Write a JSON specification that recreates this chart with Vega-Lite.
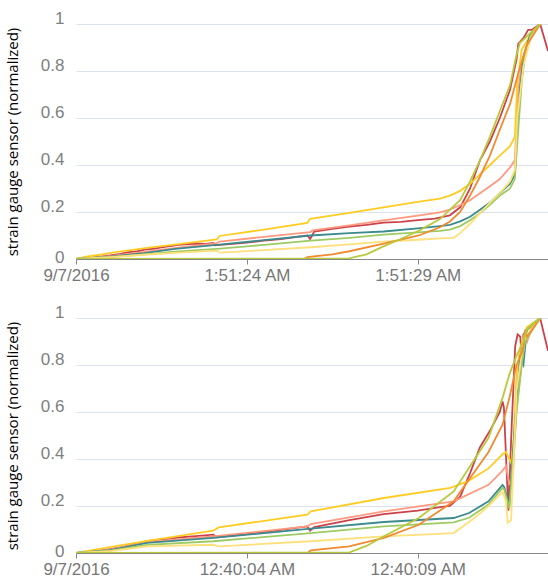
{
"$schema": "https://vega.github.io/schema/vega-lite/v6.json",
"padding": {"left": 5, "top": 9, "right": 0, "bottom": 0},
"spacing": 59,
"bounds": "flush",
"config": {
  "view": {"stroke": null},
  "axisX": {"grid": false, "domainColor": "#888888", "tickColor": "#888888", "tickSize": 5, "labelColor": "#777777", "labelFont": "Liberation Sans", "labelFontSize": 17, "labelPadding": 3, "labelFlush": false, "labelOverlap": false},
  "axisY": {"domain": false, "ticks": false, "gridColor": "#dde3ee", "gridWidth": 1, "labelColor": "#808080", "labelFont": "Liberation Sans", "labelFontSize": 17, "labelPadding": 12, "labelBaseline": "middle", "minExtent": 36, "maxExtent": 36, "titleFont": "Open Sans", "titleFontSize": 15, "titleFontWeight": "normal", "titleColor": "#000000", "titlePadding": 20}
},
"datasets": {
"top": [
{"sensor":"Sensor 1","time":"2016-09-07T01:51:19.000","value":0},
{"sensor":"Sensor 1","time":"2016-09-07T01:51:19.500","value":0.006},
{"sensor":"Sensor 1","time":"2016-09-07T01:51:20.000","value":0.015},
{"sensor":"Sensor 1","time":"2016-09-07T01:51:20.300","value":0.022},
{"sensor":"Sensor 1","time":"2016-09-07T01:51:20.500","value":0.028},
{"sensor":"Sensor 1","time":"2016-09-07T01:51:20.800","value":0.033},
{"sensor":"Sensor 1","time":"2016-09-07T01:51:21.000","value":0.04},
{"sensor":"Sensor 1","time":"2016-09-07T01:51:21.300","value":0.044},
{"sensor":"Sensor 1","time":"2016-09-07T01:51:21.500","value":0.05},
{"sensor":"Sensor 1","time":"2016-09-07T01:51:21.800","value":0.056},
{"sensor":"Sensor 1","time":"2016-09-07T01:51:22.000","value":0.06},
{"sensor":"Sensor 1","time":"2016-09-07T01:51:22.500","value":0.066},
{"sensor":"Sensor 1","time":"2016-09-07T01:51:22.800","value":0.064},
{"sensor":"Sensor 1","time":"2016-09-07T01:51:23.020","value":0.068},
{"sensor":"Sensor 1","time":"2016-09-07T01:51:23.070","value":0.058},
{"sensor":"Sensor 1","time":"2016-09-07T01:51:23.500","value":0.063},
{"sensor":"Sensor 1","time":"2016-09-07T01:51:24.000","value":0.07},
{"sensor":"Sensor 1","time":"2016-09-07T01:51:24.500","value":0.078},
{"sensor":"Sensor 1","time":"2016-09-07T01:51:25.000","value":0.085},
{"sensor":"Sensor 1","time":"2016-09-07T01:51:25.500","value":0.095},
{"sensor":"Sensor 1","time":"2016-09-07T01:51:25.770","value":0.1},
{"sensor":"Sensor 1","time":"2016-09-07T01:51:25.850","value":0.085},
{"sensor":"Sensor 1","time":"2016-09-07T01:51:25.970","value":0.117},
{"sensor":"Sensor 1","time":"2016-09-07T01:51:26.500","value":0.128},
{"sensor":"Sensor 1","time":"2016-09-07T01:51:27.000","value":0.138},
{"sensor":"Sensor 1","time":"2016-09-07T01:51:27.500","value":0.145},
{"sensor":"Sensor 1","time":"2016-09-07T01:51:28.000","value":0.155},
{"sensor":"Sensor 1","time":"2016-09-07T01:51:28.500","value":0.158},
{"sensor":"Sensor 1","time":"2016-09-07T01:51:29.000","value":0.165},
{"sensor":"Sensor 1","time":"2016-09-07T01:51:29.500","value":0.172},
{"sensor":"Sensor 1","time":"2016-09-07T01:51:29.940","value":0.186},
{"sensor":"Sensor 1","time":"2016-09-07T01:51:30.240","value":0.22},
{"sensor":"Sensor 1","time":"2016-09-07T01:51:30.530","value":0.3},
{"sensor":"Sensor 1","time":"2016-09-07T01:51:30.820","value":0.42},
{"sensor":"Sensor 1","time":"2016-09-07T01:51:31.110","value":0.5},
{"sensor":"Sensor 1","time":"2016-09-07T01:51:31.400","value":0.6},
{"sensor":"Sensor 1","time":"2016-09-07T01:51:31.700","value":0.72},
{"sensor":"Sensor 1","time":"2016-09-07T01:51:31.890","value":0.85},
{"sensor":"Sensor 1","time":"2016-09-07T01:51:31.940","value":0.915},
{"sensor":"Sensor 1","time":"2016-09-07T01:51:32.090","value":0.94},
{"sensor":"Sensor 1","time":"2016-09-07T01:51:32.230","value":0.975},
{"sensor":"Sensor 1","time":"2016-09-07T01:51:32.330","value":0.975},
{"sensor":"Sensor 1","time":"2016-09-07T01:51:32.580","value":1},
{"sensor":"Sensor 1","time":"2016-09-07T01:51:32.810","value":0.885},
{"sensor":"Sensor 2","time":"2016-09-07T01:51:19.000","value":0},
{"sensor":"Sensor 2","time":"2016-09-07T01:51:20.000","value":0.012},
{"sensor":"Sensor 2","time":"2016-09-07T01:51:21.000","value":0.03},
{"sensor":"Sensor 2","time":"2016-09-07T01:51:22.000","value":0.048},
{"sensor":"Sensor 2","time":"2016-09-07T01:51:23.100","value":0.066},
{"sensor":"Sensor 2","time":"2016-09-07T01:51:23.200","value":0.074},
{"sensor":"Sensor 2","time":"2016-09-07T01:51:24.500","value":0.094},
{"sensor":"Sensor 2","time":"2016-09-07T01:51:25.850","value":0.114},
{"sensor":"Sensor 2","time":"2016-09-07T01:51:25.920","value":0.122},
{"sensor":"Sensor 2","time":"2016-09-07T01:51:27.000","value":0.143},
{"sensor":"Sensor 2","time":"2016-09-07T01:51:28.000","value":0.164},
{"sensor":"Sensor 2","time":"2016-09-07T01:51:29.000","value":0.185},
{"sensor":"Sensor 2","time":"2016-09-07T01:51:29.650","value":0.198},
{"sensor":"Sensor 2","time":"2016-09-07T01:51:29.940","value":0.21},
{"sensor":"Sensor 2","time":"2016-09-07T01:51:30.240","value":0.23},
{"sensor":"Sensor 2","time":"2016-09-07T01:51:30.530","value":0.25},
{"sensor":"Sensor 2","time":"2016-09-07T01:51:30.820","value":0.28},
{"sensor":"Sensor 2","time":"2016-09-07T01:51:31.110","value":0.31},
{"sensor":"Sensor 2","time":"2016-09-07T01:51:31.400","value":0.34},
{"sensor":"Sensor 2","time":"2016-09-07T01:51:31.700","value":0.39},
{"sensor":"Sensor 2","time":"2016-09-07T01:51:31.840","value":0.42},
{"sensor":"Sensor 2","time":"2016-09-07T01:51:31.910","value":0.67},
{"sensor":"Sensor 2","time":"2016-09-07T01:51:32.040","value":0.84},
{"sensor":"Sensor 2","time":"2016-09-07T01:51:32.280","value":0.94},
{"sensor":"Sensor 2","time":"2016-09-07T01:51:32.580","value":1},
{"sensor":"Sensor 3","time":"2016-09-07T01:51:19.000","value":0},
{"sensor":"Sensor 3","time":"2016-09-07T01:51:19.300","value":0.01},
{"sensor":"Sensor 3","time":"2016-09-07T01:51:19.600","value":0.016},
{"sensor":"Sensor 3","time":"2016-09-07T01:51:19.860","value":0.022},
{"sensor":"Sensor 3","time":"2016-09-07T01:51:20.200","value":0.03},
{"sensor":"Sensor 3","time":"2016-09-07T01:51:20.600","value":0.038},
{"sensor":"Sensor 3","time":"2016-09-07T01:51:21.080","value":0.047},
{"sensor":"Sensor 3","time":"2016-09-07T01:51:22.000","value":0.063},
{"sensor":"Sensor 3","time":"2016-09-07T01:51:23.120","value":0.083},
{"sensor":"Sensor 3","time":"2016-09-07T01:51:23.200","value":0.098},
{"sensor":"Sensor 3","time":"2016-09-07T01:51:24.500","value":0.125},
{"sensor":"Sensor 3","time":"2016-09-07T01:51:25.770","value":0.154},
{"sensor":"Sensor 3","time":"2016-09-07T01:51:25.850","value":0.171},
{"sensor":"Sensor 3","time":"2016-09-07T01:51:27.000","value":0.196},
{"sensor":"Sensor 3","time":"2016-09-07T01:51:28.000","value":0.22},
{"sensor":"Sensor 3","time":"2016-09-07T01:51:29.000","value":0.243},
{"sensor":"Sensor 3","time":"2016-09-07T01:51:29.650","value":0.257},
{"sensor":"Sensor 3","time":"2016-09-07T01:51:29.940","value":0.27},
{"sensor":"Sensor 3","time":"2016-09-07T01:51:30.240","value":0.29},
{"sensor":"Sensor 3","time":"2016-09-07T01:51:30.530","value":0.32},
{"sensor":"Sensor 3","time":"2016-09-07T01:51:30.820","value":0.36},
{"sensor":"Sensor 3","time":"2016-09-07T01:51:31.110","value":0.4},
{"sensor":"Sensor 3","time":"2016-09-07T01:51:31.400","value":0.44},
{"sensor":"Sensor 3","time":"2016-09-07T01:51:31.700","value":0.48},
{"sensor":"Sensor 3","time":"2016-09-07T01:51:31.840","value":0.52},
{"sensor":"Sensor 3","time":"2016-09-07T01:51:31.910","value":0.75},
{"sensor":"Sensor 3","time":"2016-09-07T01:51:32.040","value":0.89},
{"sensor":"Sensor 3","time":"2016-09-07T01:51:32.280","value":0.95},
{"sensor":"Sensor 3","time":"2016-09-07T01:51:32.580","value":1},
{"sensor":"Sensor 4","time":"2016-09-07T01:51:19.000","value":0},
{"sensor":"Sensor 4","time":"2016-09-07T01:51:20.000","value":0.01},
{"sensor":"Sensor 4","time":"2016-09-07T01:51:21.000","value":0.025},
{"sensor":"Sensor 4","time":"2016-09-07T01:51:21.900","value":0.043},
{"sensor":"Sensor 4","time":"2016-09-07T01:51:23.120","value":0.06},
{"sensor":"Sensor 4","time":"2016-09-07T01:51:24.500","value":0.08},
{"sensor":"Sensor 4","time":"2016-09-07T01:51:25.870","value":0.1},
{"sensor":"Sensor 4","time":"2016-09-07T01:51:27.000","value":0.11},
{"sensor":"Sensor 4","time":"2016-09-07T01:51:28.000","value":0.117},
{"sensor":"Sensor 4","time":"2016-09-07T01:51:29.000","value":0.13},
{"sensor":"Sensor 4","time":"2016-09-07T01:51:29.650","value":0.14},
{"sensor":"Sensor 4","time":"2016-09-07T01:51:29.940","value":0.145},
{"sensor":"Sensor 4","time":"2016-09-07T01:51:30.240","value":0.16},
{"sensor":"Sensor 4","time":"2016-09-07T01:51:30.530","value":0.18},
{"sensor":"Sensor 4","time":"2016-09-07T01:51:30.820","value":0.21},
{"sensor":"Sensor 4","time":"2016-09-07T01:51:31.110","value":0.24},
{"sensor":"Sensor 4","time":"2016-09-07T01:51:31.400","value":0.28},
{"sensor":"Sensor 4","time":"2016-09-07T01:51:31.700","value":0.32},
{"sensor":"Sensor 4","time":"2016-09-07T01:51:31.840","value":0.36},
{"sensor":"Sensor 4","time":"2016-09-07T01:51:31.910","value":0.55},
{"sensor":"Sensor 4","time":"2016-09-07T01:51:31.990","value":0.72},
{"sensor":"Sensor 4","time":"2016-09-07T01:51:32.090","value":0.86},
{"sensor":"Sensor 4","time":"2016-09-07T01:51:32.280","value":0.95},
{"sensor":"Sensor 4","time":"2016-09-07T01:51:32.580","value":1},
{"sensor":"Sensor 5","time":"2016-09-07T01:51:19.000","value":0},
{"sensor":"Sensor 5","time":"2016-09-07T01:51:20.000","value":0.008},
{"sensor":"Sensor 5","time":"2016-09-07T01:51:21.000","value":0.02},
{"sensor":"Sensor 5","time":"2016-09-07T01:51:21.900","value":0.031},
{"sensor":"Sensor 5","time":"2016-09-07T01:51:23.120","value":0.043},
{"sensor":"Sensor 5","time":"2016-09-07T01:51:24.500","value":0.06},
{"sensor":"Sensor 5","time":"2016-09-07T01:51:25.870","value":0.078},
{"sensor":"Sensor 5","time":"2016-09-07T01:51:27.000","value":0.09},
{"sensor":"Sensor 5","time":"2016-09-07T01:51:28.000","value":0.104},
{"sensor":"Sensor 5","time":"2016-09-07T01:51:29.000","value":0.113},
{"sensor":"Sensor 5","time":"2016-09-07T01:51:29.650","value":0.12},
{"sensor":"Sensor 5","time":"2016-09-07T01:51:29.940","value":0.125},
{"sensor":"Sensor 5","time":"2016-09-07T01:51:30.240","value":0.14},
{"sensor":"Sensor 5","time":"2016-09-07T01:51:30.530","value":0.165},
{"sensor":"Sensor 5","time":"2016-09-07T01:51:30.820","value":0.195},
{"sensor":"Sensor 5","time":"2016-09-07T01:51:31.110","value":0.23},
{"sensor":"Sensor 5","time":"2016-09-07T01:51:31.400","value":0.27},
{"sensor":"Sensor 5","time":"2016-09-07T01:51:31.700","value":0.3},
{"sensor":"Sensor 5","time":"2016-09-07T01:51:31.840","value":0.34},
{"sensor":"Sensor 5","time":"2016-09-07T01:51:31.940","value":0.55},
{"sensor":"Sensor 5","time":"2016-09-07T01:51:32.040","value":0.75},
{"sensor":"Sensor 5","time":"2016-09-07T01:51:32.140","value":0.87},
{"sensor":"Sensor 5","time":"2016-09-07T01:51:32.300","value":0.95},
{"sensor":"Sensor 5","time":"2016-09-07T01:51:32.580","value":1},
{"sensor":"Sensor 6","time":"2016-09-07T01:51:19.000","value":0},
{"sensor":"Sensor 6","time":"2016-09-07T01:51:20.000","value":0.008},
{"sensor":"Sensor 6","time":"2016-09-07T01:51:21.000","value":0.018},
{"sensor":"Sensor 6","time":"2016-09-07T01:51:21.900","value":0.026},
{"sensor":"Sensor 6","time":"2016-09-07T01:51:23.120","value":0.036},
{"sensor":"Sensor 6","time":"2016-09-07T01:51:23.220","value":0.027},
{"sensor":"Sensor 6","time":"2016-09-07T01:51:24.500","value":0.038},
{"sensor":"Sensor 6","time":"2016-09-07T01:51:25.870","value":0.05},
{"sensor":"Sensor 6","time":"2016-09-07T01:51:27.000","value":0.062},
{"sensor":"Sensor 6","time":"2016-09-07T01:51:28.000","value":0.074},
{"sensor":"Sensor 6","time":"2016-09-07T01:51:29.000","value":0.082},
{"sensor":"Sensor 6","time":"2016-09-07T01:51:29.650","value":0.088},
{"sensor":"Sensor 6","time":"2016-09-07T01:51:30.050","value":0.09},
{"sensor":"Sensor 6","time":"2016-09-07T01:51:30.240","value":0.11},
{"sensor":"Sensor 6","time":"2016-09-07T01:51:30.530","value":0.15},
{"sensor":"Sensor 6","time":"2016-09-07T01:51:30.820","value":0.195},
{"sensor":"Sensor 6","time":"2016-09-07T01:51:31.110","value":0.24},
{"sensor":"Sensor 6","time":"2016-09-07T01:51:31.400","value":0.28},
{"sensor":"Sensor 6","time":"2016-09-07T01:51:31.700","value":0.33},
{"sensor":"Sensor 6","time":"2016-09-07T01:51:31.840","value":0.38},
{"sensor":"Sensor 6","time":"2016-09-07T01:51:31.910","value":0.6},
{"sensor":"Sensor 6","time":"2016-09-07T01:51:32.090","value":0.82},
{"sensor":"Sensor 6","time":"2016-09-07T01:51:32.300","value":0.94},
{"sensor":"Sensor 6","time":"2016-09-07T01:51:32.580","value":1},
{"sensor":"Sensor 7","time":"2016-09-07T01:51:19.000","value":0},
{"sensor":"Sensor 7","time":"2016-09-07T01:51:25.670","value":0},
{"sensor":"Sensor 7","time":"2016-09-07T01:51:25.770","value":0.008},
{"sensor":"Sensor 7","time":"2016-09-07T01:51:26.500","value":0.02},
{"sensor":"Sensor 7","time":"2016-09-07T01:51:27.000","value":0.033},
{"sensor":"Sensor 7","time":"2016-09-07T01:51:28.000","value":0.065},
{"sensor":"Sensor 7","time":"2016-09-07T01:51:29.030","value":0.1},
{"sensor":"Sensor 7","time":"2016-09-07T01:51:29.650","value":0.135},
{"sensor":"Sensor 7","time":"2016-09-07T01:51:29.940","value":0.16},
{"sensor":"Sensor 7","time":"2016-09-07T01:51:30.240","value":0.2},
{"sensor":"Sensor 7","time":"2016-09-07T01:51:30.530","value":0.27},
{"sensor":"Sensor 7","time":"2016-09-07T01:51:30.820","value":0.35},
{"sensor":"Sensor 7","time":"2016-09-07T01:51:31.110","value":0.44},
{"sensor":"Sensor 7","time":"2016-09-07T01:51:31.400","value":0.55},
{"sensor":"Sensor 7","time":"2016-09-07T01:51:31.700","value":0.66},
{"sensor":"Sensor 7","time":"2016-09-07T01:51:31.940","value":0.79},
{"sensor":"Sensor 7","time":"2016-09-07T01:51:32.190","value":0.91},
{"sensor":"Sensor 7","time":"2016-09-07T01:51:32.580","value":1},
{"sensor":"Sensor 8","time":"2016-09-07T01:51:19.000","value":0},
{"sensor":"Sensor 8","time":"2016-09-07T01:51:26.990","value":0.003},
{"sensor":"Sensor 8","time":"2016-09-07T01:51:27.500","value":0.02},
{"sensor":"Sensor 8","time":"2016-09-07T01:51:28.010","value":0.055},
{"sensor":"Sensor 8","time":"2016-09-07T01:51:28.500","value":0.085},
{"sensor":"Sensor 8","time":"2016-09-07T01:51:29.030","value":0.12},
{"sensor":"Sensor 8","time":"2016-09-07T01:51:29.650","value":0.17},
{"sensor":"Sensor 8","time":"2016-09-07T01:51:29.940","value":0.21},
{"sensor":"Sensor 8","time":"2016-09-07T01:51:30.240","value":0.25},
{"sensor":"Sensor 8","time":"2016-09-07T01:51:30.530","value":0.33},
{"sensor":"Sensor 8","time":"2016-09-07T01:51:30.820","value":0.42},
{"sensor":"Sensor 8","time":"2016-09-07T01:51:31.110","value":0.52},
{"sensor":"Sensor 8","time":"2016-09-07T01:51:31.400","value":0.63},
{"sensor":"Sensor 8","time":"2016-09-07T01:51:31.700","value":0.74},
{"sensor":"Sensor 8","time":"2016-09-07T01:51:31.890","value":0.87},
{"sensor":"Sensor 8","time":"2016-09-07T01:51:31.990","value":0.92},
{"sensor":"Sensor 8","time":"2016-09-07T01:51:32.140","value":0.94},
{"sensor":"Sensor 8","time":"2016-09-07T01:51:32.280","value":0.96},
{"sensor":"Sensor 8","time":"2016-09-07T01:51:32.580","value":1}
],
"bottom": [
{"sensor":"Sensor 1","time":"2016-09-07T00:39:59.000","value":0},
{"sensor":"Sensor 1","time":"2016-09-07T00:39:59.500","value":0.006},
{"sensor":"Sensor 1","time":"2016-09-07T00:40:00.000","value":0.016},
{"sensor":"Sensor 1","time":"2016-09-07T00:40:00.300","value":0.024},
{"sensor":"Sensor 1","time":"2016-09-07T00:40:00.500","value":0.03},
{"sensor":"Sensor 1","time":"2016-09-07T00:40:00.800","value":0.04},
{"sensor":"Sensor 1","time":"2016-09-07T00:40:01.080","value":0.05},
{"sensor":"Sensor 1","time":"2016-09-07T00:40:01.500","value":0.058},
{"sensor":"Sensor 1","time":"2016-09-07T00:40:01.800","value":0.06},
{"sensor":"Sensor 1","time":"2016-09-07T00:40:02.000","value":0.066},
{"sensor":"Sensor 1","time":"2016-09-07T00:40:02.500","value":0.072},
{"sensor":"Sensor 1","time":"2016-09-07T00:40:03.020","value":0.078},
{"sensor":"Sensor 1","time":"2016-09-07T00:40:03.100","value":0.067},
{"sensor":"Sensor 1","time":"2016-09-07T00:40:04.000","value":0.08},
{"sensor":"Sensor 1","time":"2016-09-07T00:40:05.000","value":0.098},
{"sensor":"Sensor 1","time":"2016-09-07T00:40:05.770","value":0.113},
{"sensor":"Sensor 1","time":"2016-09-07T00:40:05.850","value":0.095},
{"sensor":"Sensor 1","time":"2016-09-07T00:40:05.970","value":0.11},
{"sensor":"Sensor 1","time":"2016-09-07T00:40:07.000","value":0.14},
{"sensor":"Sensor 1","time":"2016-09-07T00:40:08.000","value":0.165},
{"sensor":"Sensor 1","time":"2016-09-07T00:40:09.000","value":0.18},
{"sensor":"Sensor 1","time":"2016-09-07T00:40:09.650","value":0.195},
{"sensor":"Sensor 1","time":"2016-09-07T00:40:09.940","value":0.2},
{"sensor":"Sensor 1","time":"2016-09-07T00:40:10.240","value":0.24},
{"sensor":"Sensor 1","time":"2016-09-07T00:40:10.530","value":0.34},
{"sensor":"Sensor 1","time":"2016-09-07T00:40:10.820","value":0.45},
{"sensor":"Sensor 1","time":"2016-09-07T00:40:11.110","value":0.52},
{"sensor":"Sensor 1","time":"2016-09-07T00:40:11.400","value":0.6},
{"sensor":"Sensor 1","time":"2016-09-07T00:40:11.480","value":0.645},
{"sensor":"Sensor 1","time":"2016-09-07T00:40:11.520","value":0.62},
{"sensor":"Sensor 1","time":"2016-09-07T00:40:11.650","value":0.18},
{"sensor":"Sensor 1","time":"2016-09-07T00:40:11.750","value":0.55},
{"sensor":"Sensor 1","time":"2016-09-07T00:40:11.850","value":0.88},
{"sensor":"Sensor 1","time":"2016-09-07T00:40:11.920","value":0.93},
{"sensor":"Sensor 1","time":"2016-09-07T00:40:12.000","value":0.92},
{"sensor":"Sensor 1","time":"2016-09-07T00:40:12.040","value":0.82},
{"sensor":"Sensor 1","time":"2016-09-07T00:40:12.090","value":0.93},
{"sensor":"Sensor 1","time":"2016-09-07T00:40:12.190","value":0.95},
{"sensor":"Sensor 1","time":"2016-09-07T00:40:12.300","value":0.96},
{"sensor":"Sensor 1","time":"2016-09-07T00:40:12.400","value":0.97},
{"sensor":"Sensor 1","time":"2016-09-07T00:40:12.580","value":1},
{"sensor":"Sensor 1","time":"2016-09-07T00:40:12.810","value":0.86},
{"sensor":"Sensor 2","time":"2016-09-07T00:39:59.000","value":0},
{"sensor":"Sensor 2","time":"2016-09-07T00:40:00.000","value":0.014},
{"sensor":"Sensor 2","time":"2016-09-07T00:40:01.080","value":0.047},
{"sensor":"Sensor 2","time":"2016-09-07T00:40:03.020","value":0.071},
{"sensor":"Sensor 2","time":"2016-09-07T00:40:05.770","value":0.113},
{"sensor":"Sensor 2","time":"2016-09-07T00:40:05.870","value":0.123},
{"sensor":"Sensor 2","time":"2016-09-07T00:40:08.010","value":0.177},
{"sensor":"Sensor 2","time":"2016-09-07T00:40:10.050","value":0.22},
{"sensor":"Sensor 2","time":"2016-09-07T00:40:11.070","value":0.29},
{"sensor":"Sensor 2","time":"2016-09-07T00:40:11.480","value":0.35},
{"sensor":"Sensor 2","time":"2016-09-07T00:40:11.580","value":0.37},
{"sensor":"Sensor 2","time":"2016-09-07T00:40:11.680","value":0.29},
{"sensor":"Sensor 2","time":"2016-09-07T00:40:11.790","value":0.35},
{"sensor":"Sensor 2","time":"2016-09-07T00:40:11.890","value":0.62},
{"sensor":"Sensor 2","time":"2016-09-07T00:40:12.040","value":0.8},
{"sensor":"Sensor 2","time":"2016-09-07T00:40:12.140","value":0.94},
{"sensor":"Sensor 2","time":"2016-09-07T00:40:12.200","value":0.9},
{"sensor":"Sensor 2","time":"2016-09-07T00:40:12.290","value":0.94},
{"sensor":"Sensor 2","time":"2016-09-07T00:40:12.580","value":1},
{"sensor":"Sensor 3","time":"2016-09-07T00:39:59.000","value":0},
{"sensor":"Sensor 3","time":"2016-09-07T00:39:59.860","value":0.022},
{"sensor":"Sensor 3","time":"2016-09-07T00:40:01.080","value":0.052},
{"sensor":"Sensor 3","time":"2016-09-07T00:40:03.020","value":0.095},
{"sensor":"Sensor 3","time":"2016-09-07T00:40:03.170","value":0.109},
{"sensor":"Sensor 3","time":"2016-09-07T00:40:05.770","value":0.163},
{"sensor":"Sensor 3","time":"2016-09-07T00:40:05.870","value":0.177},
{"sensor":"Sensor 3","time":"2016-09-07T00:40:08.010","value":0.234},
{"sensor":"Sensor 3","time":"2016-09-07T00:40:09.950","value":0.277},
{"sensor":"Sensor 3","time":"2016-09-07T00:40:10.460","value":0.305},
{"sensor":"Sensor 3","time":"2016-09-07T00:40:11.070","value":0.36},
{"sensor":"Sensor 3","time":"2016-09-07T00:40:11.480","value":0.42},
{"sensor":"Sensor 3","time":"2016-09-07T00:40:11.580","value":0.43},
{"sensor":"Sensor 3","time":"2016-09-07T00:40:11.730","value":0.383},
{"sensor":"Sensor 3","time":"2016-09-07T00:40:11.790","value":0.45},
{"sensor":"Sensor 3","time":"2016-09-07T00:40:11.890","value":0.76},
{"sensor":"Sensor 3","time":"2016-09-07T00:40:11.990","value":0.87},
{"sensor":"Sensor 3","time":"2016-09-07T00:40:12.190","value":0.96},
{"sensor":"Sensor 3","time":"2016-09-07T00:40:12.580","value":1},
{"sensor":"Sensor 4","time":"2016-09-07T00:39:59.000","value":0},
{"sensor":"Sensor 4","time":"2016-09-07T00:40:00.000","value":0.012},
{"sensor":"Sensor 4","time":"2016-09-07T00:40:01.080","value":0.043},
{"sensor":"Sensor 4","time":"2016-09-07T00:40:03.020","value":0.064},
{"sensor":"Sensor 4","time":"2016-09-07T00:40:05.870","value":0.104},
{"sensor":"Sensor 4","time":"2016-09-07T00:40:08.010","value":0.132},
{"sensor":"Sensor 4","time":"2016-09-07T00:40:10.050","value":0.149},
{"sensor":"Sensor 4","time":"2016-09-07T00:40:10.500","value":0.17},
{"sensor":"Sensor 4","time":"2016-09-07T00:40:11.070","value":0.22},
{"sensor":"Sensor 4","time":"2016-09-07T00:40:11.480","value":0.29},
{"sensor":"Sensor 4","time":"2016-09-07T00:40:11.530","value":0.28},
{"sensor":"Sensor 4","time":"2016-09-07T00:40:11.680","value":0.2},
{"sensor":"Sensor 4","time":"2016-09-07T00:40:11.840","value":0.55},
{"sensor":"Sensor 4","time":"2016-09-07T00:40:11.990","value":0.83},
{"sensor":"Sensor 4","time":"2016-09-07T00:40:12.090","value":0.8},
{"sensor":"Sensor 4","time":"2016-09-07T00:40:12.190","value":0.95},
{"sensor":"Sensor 4","time":"2016-09-07T00:40:12.580","value":1},
{"sensor":"Sensor 5","time":"2016-09-07T00:39:59.000","value":0},
{"sensor":"Sensor 5","time":"2016-09-07T00:40:00.000","value":0.01},
{"sensor":"Sensor 5","time":"2016-09-07T00:40:01.080","value":0.035},
{"sensor":"Sensor 5","time":"2016-09-07T00:40:03.020","value":0.05},
{"sensor":"Sensor 5","time":"2016-09-07T00:40:05.870","value":0.085},
{"sensor":"Sensor 5","time":"2016-09-07T00:40:08.010","value":0.113},
{"sensor":"Sensor 5","time":"2016-09-07T00:40:10.050","value":0.13},
{"sensor":"Sensor 5","time":"2016-09-07T00:40:10.500","value":0.15},
{"sensor":"Sensor 5","time":"2016-09-07T00:40:11.070","value":0.206},
{"sensor":"Sensor 5","time":"2016-09-07T00:40:11.480","value":0.277},
{"sensor":"Sensor 5","time":"2016-09-07T00:40:11.530","value":0.27},
{"sensor":"Sensor 5","time":"2016-09-07T00:40:11.680","value":0.19},
{"sensor":"Sensor 5","time":"2016-09-07T00:40:11.890","value":0.6},
{"sensor":"Sensor 5","time":"2016-09-07T00:40:12.040","value":0.8},
{"sensor":"Sensor 5","time":"2016-09-07T00:40:12.140","value":0.9},
{"sensor":"Sensor 5","time":"2016-09-07T00:40:12.580","value":1},
{"sensor":"Sensor 6","time":"2016-09-07T00:39:59.000","value":0},
{"sensor":"Sensor 6","time":"2016-09-07T00:40:00.000","value":0.008},
{"sensor":"Sensor 6","time":"2016-09-07T00:40:01.080","value":0.028},
{"sensor":"Sensor 6","time":"2016-09-07T00:40:03.020","value":0.035},
{"sensor":"Sensor 6","time":"2016-09-07T00:40:03.170","value":0.028},
{"sensor":"Sensor 6","time":"2016-09-07T00:40:05.870","value":0.05},
{"sensor":"Sensor 6","time":"2016-09-07T00:40:08.010","value":0.071},
{"sensor":"Sensor 6","time":"2016-09-07T00:40:10.050","value":0.085},
{"sensor":"Sensor 6","time":"2016-09-07T00:40:10.660","value":0.149},
{"sensor":"Sensor 6","time":"2016-09-07T00:40:11.070","value":0.2},
{"sensor":"Sensor 6","time":"2016-09-07T00:40:11.480","value":0.26},
{"sensor":"Sensor 6","time":"2016-09-07T00:40:11.580","value":0.22},
{"sensor":"Sensor 6","time":"2016-09-07T00:40:11.630","value":0.128},
{"sensor":"Sensor 6","time":"2016-09-07T00:40:11.730","value":0.14},
{"sensor":"Sensor 6","time":"2016-09-07T00:40:11.890","value":0.69},
{"sensor":"Sensor 6","time":"2016-09-07T00:40:12.090","value":0.9},
{"sensor":"Sensor 6","time":"2016-09-07T00:40:12.300","value":0.95},
{"sensor":"Sensor 6","time":"2016-09-07T00:40:12.580","value":1},
{"sensor":"Sensor 7","time":"2016-09-07T00:39:59.000","value":0},
{"sensor":"Sensor 7","time":"2016-09-07T00:40:05.770","value":0},
{"sensor":"Sensor 7","time":"2016-09-07T00:40:05.870","value":0.011},
{"sensor":"Sensor 7","time":"2016-09-07T00:40:06.990","value":0.028},
{"sensor":"Sensor 7","time":"2016-09-07T00:40:08.010","value":0.064},
{"sensor":"Sensor 7","time":"2016-09-07T00:40:09.030","value":0.12},
{"sensor":"Sensor 7","time":"2016-09-07T00:40:10.050","value":0.22},
{"sensor":"Sensor 7","time":"2016-09-07T00:40:11.070","value":0.43},
{"sensor":"Sensor 7","time":"2016-09-07T00:40:11.480","value":0.546},
{"sensor":"Sensor 7","time":"2016-09-07T00:40:11.680","value":0.66},
{"sensor":"Sensor 7","time":"2016-09-07T00:40:11.890","value":0.8},
{"sensor":"Sensor 7","time":"2016-09-07T00:40:12.040","value":0.85},
{"sensor":"Sensor 7","time":"2016-09-07T00:40:12.090","value":0.88},
{"sensor":"Sensor 7","time":"2016-09-07T00:40:12.140","value":0.95},
{"sensor":"Sensor 7","time":"2016-09-07T00:40:12.200","value":0.92},
{"sensor":"Sensor 7","time":"2016-09-07T00:40:12.580","value":1},
{"sensor":"Sensor 8","time":"2016-09-07T00:39:59.000","value":0},
{"sensor":"Sensor 8","time":"2016-09-07T00:40:06.990","value":0.002},
{"sensor":"Sensor 8","time":"2016-09-07T00:40:07.500","value":0.03},
{"sensor":"Sensor 8","time":"2016-09-07T00:40:08.010","value":0.071},
{"sensor":"Sensor 8","time":"2016-09-07T00:40:09.030","value":0.149},
{"sensor":"Sensor 8","time":"2016-09-07T00:40:10.050","value":0.262},
{"sensor":"Sensor 8","time":"2016-09-07T00:40:11.070","value":0.49},
{"sensor":"Sensor 8","time":"2016-09-07T00:40:11.480","value":0.66},
{"sensor":"Sensor 8","time":"2016-09-07T00:40:11.680","value":0.76},
{"sensor":"Sensor 8","time":"2016-09-07T00:40:11.890","value":0.84},
{"sensor":"Sensor 8","time":"2016-09-07T00:40:12.090","value":0.9},
{"sensor":"Sensor 8","time":"2016-09-07T00:40:12.190","value":0.95},
{"sensor":"Sensor 8","time":"2016-09-07T00:40:12.580","value":1}
]
},
"vconcat": [
{
  "data": {"name": "top"},
  "width": 472,
  "height": 235,
  "mark": {"type": "line", "clip": true, "strokeWidth": 1.8},
  "encoding": {
    "x": {"field": "time", "type": "temporal", "title": null,
      "scale": {"domain": [{"year": 2016, "month": 9, "date": 7, "hours": 1, "minutes": 51, "seconds": 19}, {"year": 2016, "month": 9, "date": 7, "hours": 1, "minutes": 51, "seconds": 32, "milliseconds": 810}], "nice": false},
      "axis": {"values": [{"year": 2016, "month": 9, "date": 7, "hours": 1, "minutes": 51, "seconds": 19}, {"year": 2016, "month": 9, "date": 7, "hours": 1, "minutes": 51, "seconds": 24}, {"year": 2016, "month": 9, "date": 7, "hours": 1, "minutes": 51, "seconds": 29}],
        "labelExpr": "seconds(datum.value) == 19 ? '9/7/2016' : timeFormat(datum.value, '%-I:%M:%S %p')"}},
    "y": {"field": "value", "type": "quantitative", "title": "strain gauge sensor (normalized)",
      "scale": {"domain": [0, 1], "nice": false},
      "axis": {"values": [0, 0.2, 0.4, 0.6, 0.8, 1], "format": "~g", "labelOffset": {"condition": {"test": "datum.value == 0", "value": -2}, "value": -6}}},
    "color": {"field": "sensor", "type": "nominal", "legend": null,
      "scale": {"domain": ["Sensor 1", "Sensor 2", "Sensor 3", "Sensor 4", "Sensor 5", "Sensor 6", "Sensor 7", "Sensor 8"],
        "range": ["#cc424a", "#ff9a80", "#ffcc22", "#3b8a8d", "#9dcb63", "#ffe07a", "#f28a30", "#b9c93c"]}}
  }
},
{
  "data": {"name": "bottom"},
  "width": 472,
  "height": 235,
  "mark": {"type": "line", "clip": true, "strokeWidth": 1.8},
  "encoding": {
    "x": {"field": "time", "type": "temporal", "title": null,
      "scale": {"domain": [{"year": 2016, "month": 9, "date": 7, "hours": 0, "minutes": 39, "seconds": 59}, {"year": 2016, "month": 9, "date": 7, "hours": 0, "minutes": 40, "seconds": 12, "milliseconds": 810}], "nice": false},
      "axis": {"values": [{"year": 2016, "month": 9, "date": 7, "hours": 0, "minutes": 39, "seconds": 59}, {"year": 2016, "month": 9, "date": 7, "hours": 0, "minutes": 40, "seconds": 4}, {"year": 2016, "month": 9, "date": 7, "hours": 0, "minutes": 40, "seconds": 9}],
        "labelExpr": "seconds(datum.value) == 59 ? '9/7/2016' : timeFormat(datum.value, '%-I:%M:%S %p')"}},
    "y": {"field": "value", "type": "quantitative", "title": "strain gauge sensor (normalized)",
      "scale": {"domain": [0, 1], "nice": false},
      "axis": {"values": [0, 0.2, 0.4, 0.6, 0.8, 1], "format": "~g", "labelOffset": {"condition": {"test": "datum.value == 0", "value": -2}, "value": -6}}},
    "color": {"field": "sensor", "type": "nominal", "legend": null,
      "scale": {"domain": ["Sensor 1", "Sensor 2", "Sensor 3", "Sensor 4", "Sensor 5", "Sensor 6", "Sensor 7", "Sensor 8"],
        "range": ["#cc424a", "#ff9a80", "#ffcc22", "#3b8a8d", "#9dcb63", "#ffe07a", "#f28a30", "#b9c93c"]}}
  }
}
]
}
